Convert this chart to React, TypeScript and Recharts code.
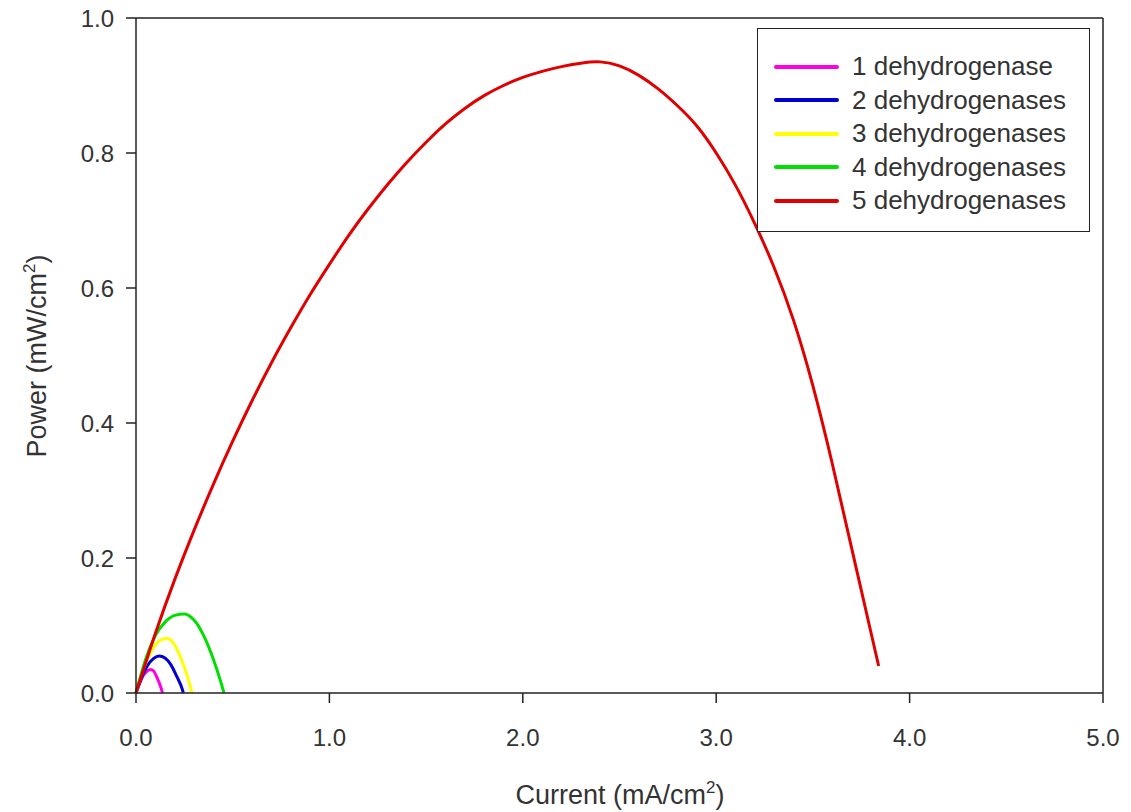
import React from "react"
import { LineChart, Line, XAxis, YAxis, ReferenceLine, Label } from "recharts"

// current (mA/cm2) and power (mW/cm2)
const current1 = [0, 0.02, 0.04, 0.06, 0.075, 0.09, 0.11, 0.13, 0.137]
const power1 = [0, 0.015, 0.027, 0.033, 0.035, 0.033, 0.022, 0.007, 0]

const current2 = [0, 0.03, 0.06, 0.09, 0.12, 0.15, 0.18, 0.21, 0.24, 0.245]
const power2 = [0, 0.024, 0.041, 0.051, 0.055, 0.052, 0.042, 0.025, 0.005, 0]

const current3 = [0, 0.04, 0.08, 0.12, 0.16, 0.2, 0.24, 0.27, 0.29]
const power3 = [0, 0.037, 0.062, 0.077, 0.081, 0.071, 0.046, 0.021, 0]

const current4 = [0, 0.05, 0.1, 0.15, 0.2, 0.25, 0.3, 0.35, 0.4, 0.44, 0.455]
const power4 = [0, 0.05, 0.085, 0.105, 0.115, 0.117, 0.108, 0.085, 0.05, 0.015, 0]

const current5 = [
  0, 0.1, 0.2, 0.3, 0.4, 0.5, 0.6, 0.7, 0.8, 0.9, 1.0, 1.1, 1.2, 1.3, 1.4,
  1.5, 1.6, 1.7, 1.8, 1.9, 2.0, 2.1, 2.2, 2.3, 2.4, 2.5, 2.6, 2.7, 2.8, 2.9,
  3.0, 3.1, 3.2, 3.3, 3.4, 3.5, 3.6, 3.7, 3.8, 3.84,
]
const power5 = [
  0, 0.088, 0.168, 0.241, 0.309, 0.373, 0.433, 0.489, 0.541, 0.59, 0.635,
  0.678, 0.717, 0.753, 0.786, 0.816, 0.843, 0.866, 0.885, 0.9, 0.912, 0.921,
  0.928, 0.933, 0.935, 0.929, 0.915, 0.895, 0.87, 0.84, 0.8, 0.752, 0.695,
  0.63, 0.552, 0.455, 0.34, 0.215, 0.09, 0.04,
]

const seriesNames = [
  "1 dehydrogenase",
  "2 dehydrogenases",
  "3 dehydrogenases",
  "4 dehydrogenases",
  "5 dehydrogenases",
]
const seriesColors = ["#ff00e0", "#0000d0", "#ffff00", "#00e000", "#e00000"]

const xTicks = [0, 1, 2, 3, 4, 5]
const yTicks = [0, 0.2, 0.4, 0.6, 0.8, 1.0]

const toPoints = (xs: number[], ys: number[]) =>
  xs.map((x, i) => ({ x, y: ys[i] }))

const series = [
  toPoints(current1, power1),
  toPoints(current2, power2),
  toPoints(current3, power3),
  toPoints(current4, power4),
  toPoints(current5, power5),
]

const font = "'Liberation Sans', Arial, sans-serif"
const textColor = "#333"

function LegendBox() {
  return (
    <div
      style={{
        position: "absolute",
        left: 757,
        top: 28,
        border: "1.5px solid #222",
        background: "#fff",
        width: 333,
        height: 204,
        boxSizing: "border-box",
        paddingTop: 21,
        fontFamily: font,
      }}
    >
      {seriesNames.map((name, i) => (
        <div
          key={name}
          style={{ display: "flex", alignItems: "center", height: 33.5 }}
        >
          <div
            style={{
              marginLeft: 16,
              width: 65,
              height: 4,
              borderRadius: 2,
              background: seriesColors[i],
            }}
          />
          <span style={{ marginLeft: 13, fontSize: 26, color: textColor }}>
            {name}
          </span>
        </div>
      ))}
    </div>
  )
}

export default function App() {
  return (
    <div style={{ position: "absolute", left: 0, top: 0, background: "#fff" }}>
      <LineChart
        width={1131}
        height={812}
        margin={{ top: 18, right: 28, bottom: 59, left: 56 }}
      >
        <XAxis
          dataKey="x"
          type="number"
          domain={[0, 5]}
          ticks={xTicks}
          tickFormatter={(v) => v.toFixed(1)}
          stroke="#222"
          strokeWidth={1.5}
          tickSize={10}
          tickMargin={26}
          height={60}
          tick={{ fill: textColor, fontSize: 24, fontFamily: font }}
          allowDuplicatedCategory={false}
        >
          <Label
            content={() => (
              <text
                x={620}
                y={804}
                textAnchor="middle"
                fontSize={27}
                fontFamily={font}
                fill={textColor}
              >
                Current (mA/cm
                <tspan dy={-11} fontSize={17}>
                  2
                </tspan>
                <tspan dy={11}>)</tspan>
              </text>
            )}
          />
        </XAxis>
        <YAxis
          dataKey="y"
          type="number"
          domain={[0, 1]}
          ticks={yTicks}
          tickFormatter={(v) => v.toFixed(1)}
          stroke="#222"
          strokeWidth={1.5}
          tickSize={10}
          tickMargin={12}
          width={80}
          tick={{ fill: textColor, fontSize: 24, fontFamily: font }}
        >
          <Label
            content={() => (
              <text
                x={46}
                y={356}
                transform="rotate(-90 46 356)"
                textAnchor="middle"
                fontSize={27}
                fontFamily={font}
                fill={textColor}
              >
                Power (mW/cm
                <tspan dy={-11} fontSize={17}>
                  2
                </tspan>
                <tspan dy={11}>)</tspan>
              </text>
            )}
          />
        </YAxis>
        <ReferenceLine y={1} stroke="#222" strokeWidth={1.5} />
        <ReferenceLine x={5} stroke="#222" strokeWidth={1.5} />
        {series.map((data, i) => (
          <Line
            key={seriesNames[i]}
            data={data}
            dataKey="y"
            name={seriesNames[i]}
            type={i === 4 ? "natural" : "monotone"}
            stroke={seriesColors[i]}
            strokeWidth={3}
            dot={false}
            isAnimationActive={false}
          />
        ))}
      </LineChart>
      <LegendBox />
    </div>
  )
}
